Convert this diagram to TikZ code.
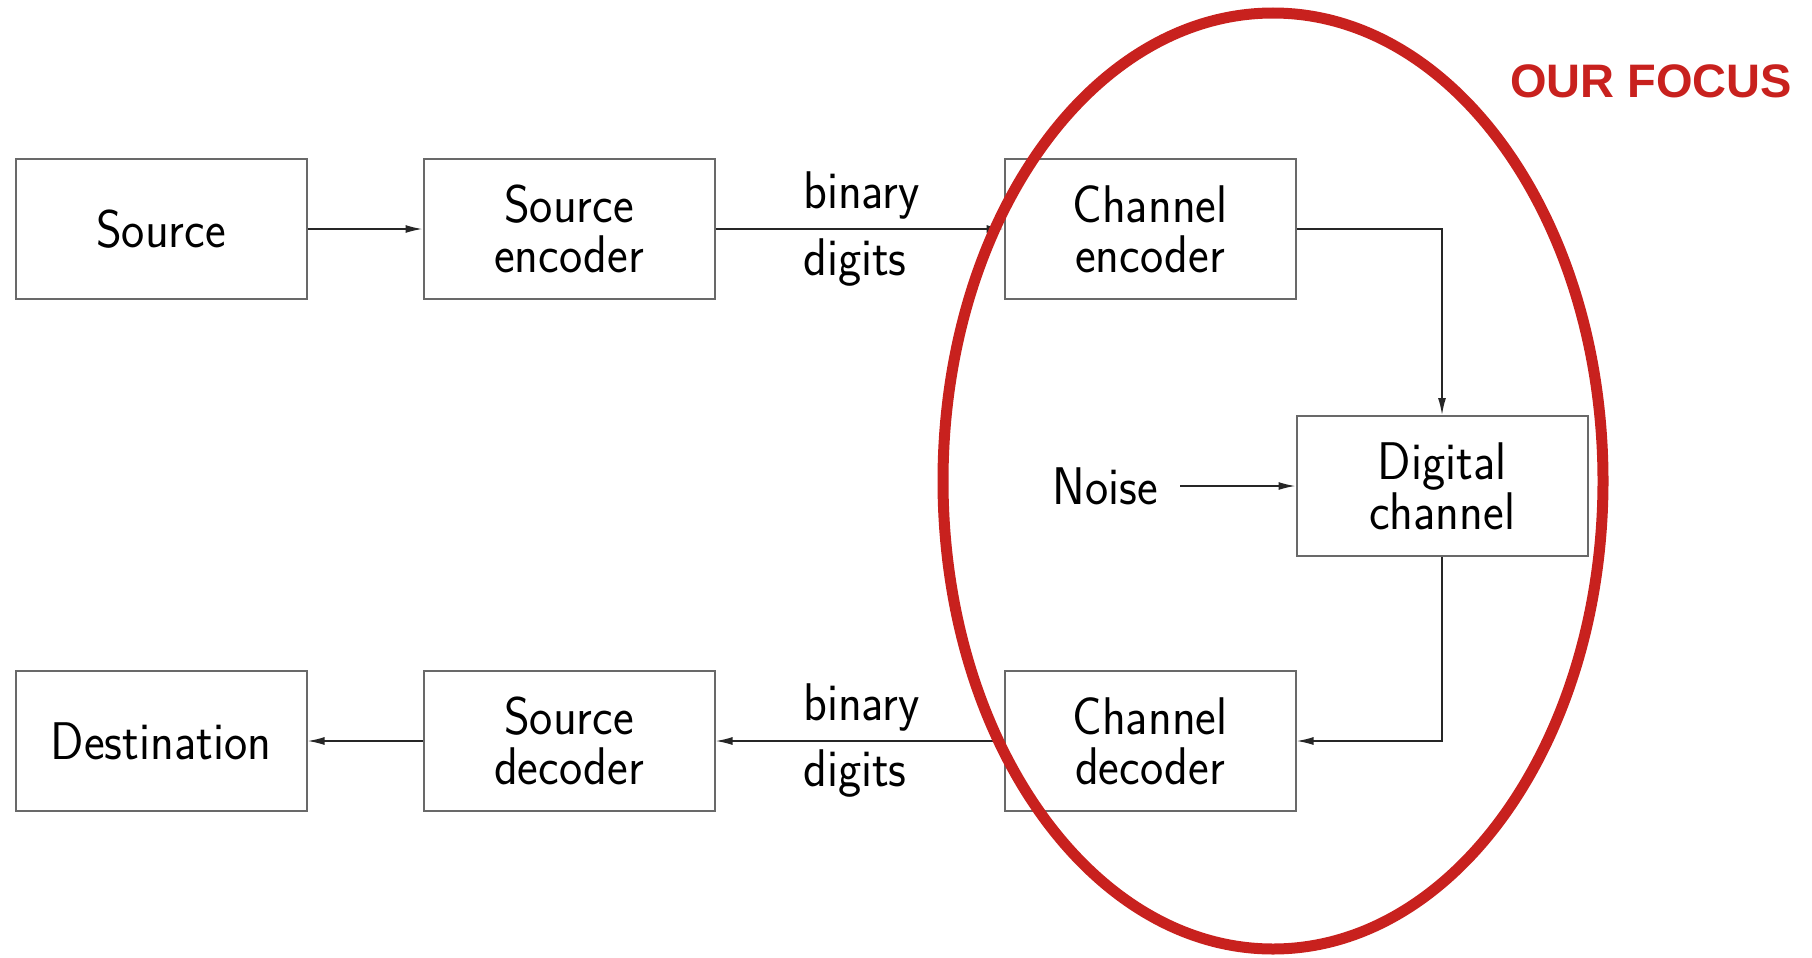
\documentclass[tikz,border=0pt]{standalone}
\usepackage{fontspec}
\newfontfamily\focusfont{Liberation Sans}
\newfontfamily\blockfam{lmsans17-regular.otf}[FakeStretch=0.93]
\usetikzlibrary{arrows.meta}
\definecolor{focusred}{RGB}{200,33,30}
\definecolor{boxgray}{RGB}{105,105,105}
\newcommand\blockfont{\blockfam\fontsize{53}{50}\selectfont}
\tikzset{
  block/.style={draw=boxgray, line width=2pt, minimum width=291pt, minimum height=140pt,
                inner sep=0pt, align=center, font=\blockfont},
  flow/.style={draw=black!85, line width=1.6pt, -{Latex[length=17pt,width=8pt]}},
  lbl/.style={font=\blockfont, inner sep=0pt},
}
\begin{document}
\begin{tikzpicture}[x=1pt,y=-1pt]
\useasboundingbox (0,0) rectangle (1812,958);

% blocks of the communication chain
\node[block] (src)  at (161,229)  {Source};
\node[block] (senc) at (569,229)  {Source\\encoder};
\node[block] (cenc) at (1150,229) {Channel\\encoder};
\node[block] (dch)  at (1442,486) {Digital\\channel};
\node[block] (cdec) at (1150,741) {Channel\\decoder};
\node[block] (sdec) at (569,741)  {Source\\decoder};
\node[block] (dst)  at (161,741)  {Destination};

% noise input
\node[lbl, anchor=east] (noise) at (1158,486) {Noise};
\coordinate (noisestart) at (1180,486);

% connectors
\draw[flow] (src) -- (senc);
\draw[flow] (senc) -- (cenc);
\draw[flow] (cenc.east) -| (dch.north);
\draw[flow] (noisestart) -- (dch.west);
\draw[flow] (dch.south) |- (cdec.east);
\draw[flow] (cdec) -- (sdec);
\draw[flow] (sdec) -- (dst);

% labels on the digit streams
\node[lbl, anchor=base west] (bin1) at (803,208) {binary};
\node[lbl, anchor=base west] (dig1) at (803,275) {digits};
\node[lbl, anchor=base west] (bin2) at (803,720) {binary};
\node[lbl, anchor=base west] (dig2) at (803,786) {digits};

% highlighted channel part
\draw[focusred, line width=11pt] (1273,481) ellipse [x radius=330pt, y radius=468pt];
\node[anchor=base west, inner sep=0pt, text=focusred,
      font=\focusfont\bfseries\fontsize{47}{47}\selectfont] (focus) at (1510,97) {OUR FOCUS};
\end{tikzpicture}
\end{document}
